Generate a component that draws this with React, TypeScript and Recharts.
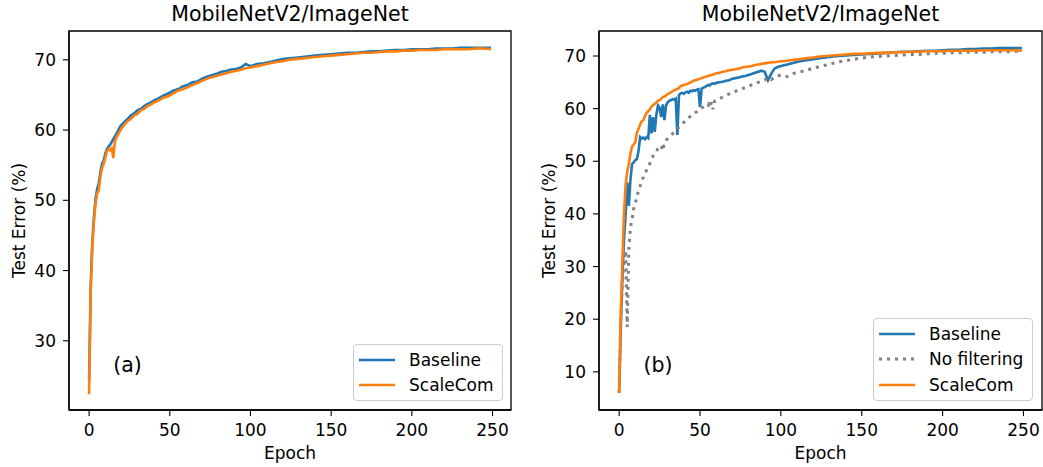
import React from 'react';
import { LineChart, Line, XAxis, YAxis, Legend, ReferenceDot, ReferenceArea } from 'recharts';

const TITLE = 'MobileNetV2/ImageNet';
const X_LABEL = 'Epoch';
const Y_LABEL = 'Test Error (%)';
const X_TICKS = [0, 50, 100, 150, 200, 250];
const Y_TICKS_A = [30, 40, 50, 60, 70];
const Y_TICKS_B = [10, 20, 30, 40, 50, 60, 70];
const X_DOMAIN: [number, number] = [-12.45, 261.45];
const Y_DOMAIN_A: [number, number] = [20.15, 74.1];
const Y_DOMAIN_B: [number, number] = [2.75, 74.75];

// ---- Panel (a) ----
const EPOCHS_A = [
  0, 1, 2, 3, 4, 5, 6, 7, 8, 9, 10, 11, 12, 13, 14, 15, 16, 17, 18, 19, 20,
  22, 24, 26, 28, 30, 32, 34, 36, 38, 40,
  43, 46, 49, 52, 55, 58, 61, 64, 67, 70, 73, 76, 79, 82, 85, 88, 91, 94, 97, 100,
  104, 108, 112, 116, 120, 124, 128, 132, 136, 140,
  145, 150, 155, 160, 165, 170, 175, 180, 185, 190, 195, 200, 205, 210, 215, 220, 225, 230, 235, 240, 245, 249,
];
const BASELINE_A = [
  24.3, 38.0, 44.0, 47.6, 50.2, 51.6, 52.4, 54.0, 55.2, 55.6, 56.6, 57.3, 57.6, 57.9, 58.3, 58.7, 59.1, 59.5, 59.9, 60.4, 60.7,
  61.2, 61.6, 62.1, 62.4, 62.8, 63.0, 63.4, 63.7, 63.9, 64.2,
  64.5, 64.9, 65.2, 65.6, 65.8, 66.2, 66.4, 66.8, 66.9, 67.3, 67.6, 67.8, 68.0, 68.3, 68.4, 68.6, 68.7, 68.9, 69.4, 69.1,
  69.4, 69.5, 69.7, 69.9, 70.1, 70.2, 70.3, 70.4, 70.5, 70.6,
  70.7, 70.8, 70.9, 71.0, 71.0, 71.1, 71.2, 71.2, 71.3, 71.4, 71.4, 71.5, 71.5, 71.5, 71.6, 71.6, 71.6, 71.7, 71.7, 71.7, 71.7, 71.7,
];
const SCALECOM_A = [
  22.4, 37.0, 43.4, 47.0, 49.5, 51.0, 51.4, 53.4, 54.6, 55.2, 56.0, 57.0, 57.3, 57.1, 57.4, 56.0, 58.4, 59.0, 59.4, 59.8, 60.2,
  60.8, 61.3, 61.6, 62.1, 62.3, 62.8, 63.0, 63.4, 63.6, 63.9,
  64.2, 64.6, 64.8, 65.2, 65.6, 65.8, 66.1, 66.4, 66.7, 67.0, 67.3, 67.5, 67.7, 67.9, 68.1, 68.3, 68.4, 68.6, 68.8, 68.9,
  69.1, 69.3, 69.5, 69.7, 69.8, 70.0, 70.1, 70.2, 70.3, 70.4,
  70.5, 70.6, 70.7, 70.8, 70.9, 71.0, 71.0, 71.1, 71.2, 71.2, 71.3, 71.3, 71.4, 71.4, 71.4, 71.5, 71.5, 71.5, 71.5, 71.6, 71.6, 71.5,
];

// ---- Panel (b) ----
const EPOCHS_B = [
  0, 1, 2, 3, 4, 5, 6, 7, 8, 9, 10, 11, 12, 13, 14, 15, 16, 17, 18, 19,
  20, 21, 22, 23, 24, 25, 26, 27, 28, 29, 30, 31, 32, 33, 34, 35, 36, 37, 38, 39,
  40, 41, 42, 43, 44, 45, 46, 47, 48, 49, 50, 51, 52, 53, 54, 55, 56, 57, 58, 59, 60,
  62, 64, 66, 68, 70, 72, 74, 76, 78, 80, 82, 84, 86, 88, 90, 92, 94, 96, 98, 100,
  104, 108, 112, 116, 120, 124, 128, 132, 136, 140,
  145, 150, 155, 160, 165, 170, 175, 180, 185, 190, 195, 200, 205, 210, 215, 220, 225, 230, 235, 240, 245, 249,
];
const BASELINE_B = [
  6.0, 18.0, 28.0, 35.0, 40.0, 46.0, 41.5, 46.5, 49.5, 49.8, 50.2, 50.4, 52.0, 54.6, 54.3, 54.5, 54.2, 54.6, 54.4, 58.8,
  55.3, 58.4, 55.6, 58.8, 60.6, 60.2, 58.4, 60.8, 57.8, 60.6, 61.2, 61.5, 61.6, 61.8, 61.7, 61.9, 55.0, 62.6, 62.9, 63.0,
  62.8, 63.1, 63.2, 63.0, 63.4, 63.3, 63.5, 63.4, 63.6, 63.7, 60.3, 63.8, 64.0, 64.1, 64.3, 64.5, 64.4, 64.7, 64.8, 64.7, 64.9,
  65.0, 65.1, 65.3, 65.4, 65.7, 65.8, 65.9, 66.1, 66.2, 66.4, 66.6, 66.8, 67.0, 67.2, 67.0, 65.4, 66.6, 67.6, 67.9, 68.1,
  68.4, 68.7, 69.0, 69.2, 69.4, 69.6, 69.7, 69.9, 70.0, 70.1,
  70.2, 70.3, 70.4, 70.5, 70.6, 70.7, 70.8, 70.8, 70.9, 71.0, 71.0, 71.1, 71.2, 71.2, 71.3, 71.3, 71.4, 71.4, 71.5, 71.5, 71.5, 71.5,
];
const NOFILTER_B = [
  6.0, 20.0, 27.0, 31.0, 33.0, 18.5, 33.5, 37.5, 39.0, 41.0, 42.0, 43.3, 44.5, 45.3, 46.3, 47.0, 47.8, 48.3, 49.0, 49.6,
  50.5, 51.0, 51.5, 51.8, 52.4, 52.8, 53.0, 52.0, 53.7, 54.0, 54.3, 54.6, 54.9, 55.2, 55.5, 55.8, 56.1, 56.5, 56.8, 57.1,
  57.4, 57.7, 58.0, 58.3, 58.5, 58.7, 58.9, 59.2, 59.4, 59.6, 59.9, 60.1, 60.3, 60.5, 60.7, 60.9, 60.1, 61.2, 59.9, 61.4, 61.6,
  61.9, 62.2, 62.5, 62.8, 63.1, 63.3, 63.6, 63.8, 64.0, 64.3, 64.5, 64.8, 65.0, 65.2, 65.4, 65.9, 65.5, 66.0, 66.2, 66.4,
  66.1, 66.7, 67.0, 67.3, 67.7, 68.0, 68.3, 68.6, 68.9, 69.1,
  69.4, 69.6, 69.8, 69.9, 70.0, 70.1, 70.2, 70.3, 70.3, 70.4, 70.5, 70.5, 70.6, 70.6, 70.7, 70.7, 70.7, 70.8, 70.8, 70.8, 70.9, 70.9,
];
const SCALECOM_B = [
  6.0, 21.0, 31.0, 40.0, 45.5, 48.0, 49.5, 51.5, 52.8, 53.2, 53.6, 55.5, 56.2, 57.0, 57.6, 57.8, 58.6, 59.2, 59.5, 59.9,
  60.4, 60.7, 60.9, 61.2, 61.5, 61.6, 61.9, 62.2, 62.3, 62.5, 62.8, 62.9, 63.1, 63.3, 63.5, 63.6, 63.8, 63.9, 64.3, 64.4,
  64.5, 64.6, 64.7, 64.8, 65.0, 65.1, 65.3, 65.4, 65.5, 65.6, 65.7, 65.8, 65.9, 66.0, 66.1, 66.2, 66.3, 66.4, 66.5, 66.6, 66.7,
  66.8, 67.0, 67.1, 67.3, 67.4, 67.5, 67.6, 67.8, 67.9, 68.0, 68.1, 68.3, 68.4, 68.5, 68.6, 68.7, 68.8, 68.8, 68.9, 69.0,
  69.1, 69.3, 69.4, 69.6, 69.7, 69.9, 70.0, 70.1, 70.2, 70.3,
  70.4, 70.4, 70.5, 70.6, 70.6, 70.7, 70.7, 70.8, 70.8, 70.9, 70.9, 70.9, 71.0, 71.0, 71.0, 71.0, 71.1, 71.1, 71.1, 71.1, 71.1, 71.0,
];

const BLUE = '#1f77b4';
const ORANGE = '#ff7f0e';
const GRAY = '#808080';
const FONT = 'DejaVu Sans, sans-serif';
const AXIS = '#000';

const dataA = EPOCHS_A.map((e, i) => ({ epoch: e, baseline: BASELINE_A[i], scalecom: SCALECOM_A[i] }));
const dataB = EPOCHS_B.map((e, i) => ({
  epoch: e,
  baseline: BASELINE_B[i],
  nofilter: NOFILTER_B[i],
  scalecom: SCALECOM_B[i],
}));

type Item = { label: string; color: string; dash?: string; width: number };

const LegendBox = ({ items }: { items: Item[] }) => (
  <div
    style={{
      boxSizing: 'border-box',
      width: '100%',
      height: '100%',
      background: 'rgba(255,255,255,0.8)',
      border: '1px solid #cccccc',
      borderRadius: 4,
      padding: '2px 8px 3px 5px',
      fontFamily: FONT,
      fontSize: 17,
      color: '#000',
    }}
  >
    {items.map((it) => (
      <div key={it.label} style={{ display: 'flex', alignItems: 'center', height: 25.5, whiteSpace: 'nowrap' }}>
        <svg width={36} height={6} style={{ display: 'block', flex: '0 0 auto' }}>
          <line x1={0} x2={36} y1={3} y2={3} stroke={it.color} strokeWidth={it.width} strokeDasharray={it.dash} />
        </svg>
        <span style={{ marginLeft: 14, lineHeight: '20px' }}>{it.label}</span>
      </div>
    ))}
  </div>
);

const panelText = (txt: string) => (p: any) => (
  <text x={p.cx} y={p.cy} fontFamily={FONT} fontSize={20.5} fill="#000" textAnchor="start">
    {txt}
  </text>
);

const tickStyle = { fill: '#000', fontSize: 17, fontFamily: FONT };

function Panel(props: {
  data: any[];
  width: number;
  yDomain: [number, number];
  yTicks: number[];
  letter: string;
  letterY: number;
  legendItems: Item[];
  legendPos: { left: number; top: number; width: number; height: number };
  lines: { key: string; color: string; dash?: string; width: number; name: string }[];
  marginRight: number;
}) {
  return (
    <LineChart
      width={props.width}
      height={467}
      data={props.data}
      margin={{ top: 31, right: props.marginRight, bottom: 0, left: 0 }}
    >
      <XAxis
        xAxisId="b"
        dataKey="epoch"
        type="number"
        domain={X_DOMAIN}
        allowDataOverflow
        ticks={X_TICKS}
        interval={0}
        height={57}
        tickSize={6}
        tickMargin={8}
        tick={tickStyle}
        stroke={AXIS}
        axisLine={{ stroke: AXIS, strokeWidth: 1.3 }}
        tickLine={{ stroke: AXIS, strokeWidth: 1.1 }}
        label={{ value: X_LABEL, position: 'insideBottom', offset: 8, fill: '#000', fontSize: 17, fontFamily: FONT }}
      />
      <YAxis
        yAxisId="l"
        type="number"
        domain={props.yDomain}
        allowDataOverflow
        ticks={props.yTicks}
        interval={0}
        width={69}
        tickSize={6}
        tickMargin={7}
        tick={tickStyle}
        axisLine={{ stroke: AXIS, strokeWidth: 1.3 }}
        tickLine={{ stroke: AXIS, strokeWidth: 1.1 }}
        label={{
          value: Y_LABEL,
          angle: -90,
          position: 'insideLeft',
          offset: 19,
          fill: '#000',
          fontSize: 17,
          fontFamily: FONT,
          style: { textAnchor: 'middle' },
        }}
      />
      {props.lines.map((l) => (
        <Line
          key={l.key}
          xAxisId="b"
          yAxisId="l"
          dataKey={l.key}
          name={l.name}
          type="linear"
          stroke={l.color}
          strokeWidth={l.width}
          strokeDasharray={l.dash}
          dot={false}
          activeDot={false}
          isAnimationActive={false}
        />
      ))}
      <ReferenceArea
        xAxisId="b"
        yAxisId="l"
        x1={X_DOMAIN[0]}
        x2={X_DOMAIN[1]}
        y1={props.yDomain[0]}
        y2={props.yDomain[1]}
        fill="none"
        fillOpacity={0}
        stroke={AXIS}
        strokeWidth={1.3}
        strokeOpacity={1}
        ifOverflow="visible"
        label={{ value: TITLE, position: 'top', offset: 10, fill: '#000', fontSize: 20.5, fontFamily: FONT }}
      />
      <ReferenceDot
        xAxisId="b"
        yAxisId="l"
        x={15}
        y={props.letterY}
        r={0}
        shape={panelText(props.letter)}
      />
      <Legend
        layout="vertical"
        align="center"
        verticalAlign="middle"
        wrapperStyle={{ position: 'absolute', ...props.legendPos }}
        content={() => <LegendBox items={props.legendItems} />}
      />
    </LineChart>
  );
}

export default function App() {
  const itemsA: Item[] = [
    { label: 'Baseline', color: BLUE, width: 2.6 },
    { label: 'ScaleCom', color: ORANGE, width: 2.6 },
  ];
  const itemsB: Item[] = [
    { label: 'Baseline', color: BLUE, width: 2.6 },
    { label: 'No filtering', color: GRAY, width: 3, dash: '3 5' },
    { label: 'ScaleCom', color: ORANGE, width: 2.6 },
  ];
  return (
    <div
      style={{
        position: 'absolute',
        left: 0,
        top: 0,
        width: 1043,
        height: 467,
        background: '#fff',
        display: 'flex',
      }}
    >
      <Panel
        data={dataA}
        width={530}
        yDomain={Y_DOMAIN_A}
        yTicks={Y_TICKS_A}
        letter="(a)"
        letterY={25.5}
        legendItems={itemsA}
        legendPos={{ left: 353, top: 344, width: 150, height: 57 }}
        marginRight={19}
        lines={[
          { key: 'baseline', name: 'Baseline', color: BLUE, width: 2.6 },
          { key: 'scalecom', name: 'ScaleCom', color: ORANGE, width: 2.6 },
        ]}
      />
      <Panel
        data={dataB}
        width={513}
        yDomain={Y_DOMAIN_B}
        yTicks={Y_TICKS_B}
        letter="(b)"
        letterY={9.95}
        legendItems={itemsB}
        legendPos={{ left: 343, top: 318, width: 160, height: 83 }}
        marginRight={1}
        lines={[
          { key: 'baseline', name: 'Baseline', color: BLUE, width: 2.6 },
          { key: 'nofilter', name: 'No filtering', color: GRAY, width: 3, dash: '3 5' },
          { key: 'scalecom', name: 'ScaleCom', color: ORANGE, width: 2.6 },
        ]}
      />
    </div>
  );
}
